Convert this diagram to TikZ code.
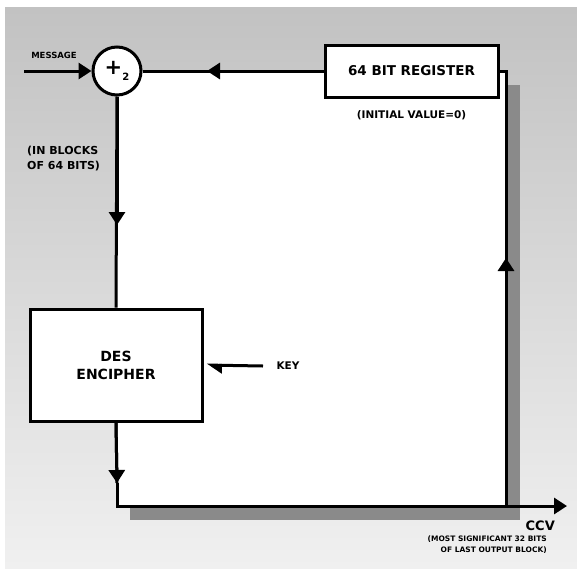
\documentclass[tikz,border=0pt]{standalone}
\usepackage{fontspec}
\setmainfont{DejaVu Sans}
\usepackage{tikz}
\usetikzlibrary{positioning, calc, arrows.meta}
\definecolor{bgTop}{RGB}{194, 194, 194}
\definecolor{bgBot}{RGB}{240, 240, 240}
\definecolor{shadowGray}{RGB}{138, 138, 138}

\begin{document}
\begin{tikzpicture}[
    x=1pt, y=-1pt,
    blk/.style={rectangle, draw, fill=white, line width=3pt, align=center,
                font=\fontsize{14}{18}\selectfont\bfseries},
    xorop/.style={circle, draw, fill=white, line width=3pt, minimum size=48pt,
                  inner sep=0pt, font=\bfseries},
    lbl/.style={inner sep=0pt, font=\fontsize{10.5}{15}\selectfont\bfseries},
    small/.style={inner sep=0pt, font=\fontsize{7.5}{11}\selectfont\bfseries},
    line/.style={line width=3pt},
    arrow/.style={line width=3pt, -{Triangle[length=13pt, width=16pt]}},
    harp/.style={line width=3pt, -{Triangle[length=13pt, width=16pt, harpoon]}},
  ]
    \useasboundingbox (0,0) rectangle (577,570);

    % background, shadow and inner field
    \fill[top color=bgTop, bottom color=bgBot] (5,7) rectangle (577,568);
    \fill[shadowGray] (130,85) rectangle (520,520);
    \fill[white] (117,71) rectangle (506,506);

    % XOR
    \node[xorop] (XOR) at (117,71) {{\fontsize{21}{21}\selectfont +}\raisebox{-6pt}{\fontsize{10}{10}\selectfont 2}};
    \node[small, font=\fontsize{8.5}{10}\selectfont\bfseries] (MSG) at (54,55) {MESSAGE};
    \coordinate (MSGin) at (24,71);

    % register
    \node[blk, minimum width=173pt, minimum height=52pt,
          font=\fontsize{13.5}{17}\selectfont\bfseries] (REG) at (411.5,71) {64 BIT REGISTER};
    \node[lbl, below=12pt of REG] (INIT) {(INITIAL VALUE=0)};

    % DES
    \node[blk, minimum width=172pt, minimum height=112pt] (DES) at (116,365) {DES\\ENCIPHER};
    \node[lbl, font=\fontsize{11}{15}\selectfont\bfseries, align=left, anchor=north west]
        (BLK) at (27,146) {(IN BLOCKS\\OF 64 BITS)};
    \node[lbl] (KEY) at (288,366) {KEY};
    \coordinate (KEYin) at (263,366);

    % corners and arrow tips
    \coordinate (TR) at (506,71);
    \coordinate (BR) at (506,506);
    \coordinate (BL) at (117,506);
    \coordinate (OUT) at (567,506);
    \coordinate (tipTop) at (207,71);
    \coordinate (tipDown) at (117,225);
    \coordinate (tipLow) at (117,483);
    \coordinate (tipUp) at (506,258);

    % output
    \node[lbl, anchor=east, font=\fontsize{13}{15}\selectfont\bfseries] (CCV) at (555,526) {CCV};
    \node[small, align=right, anchor=north east] (NOTE) at (547,536)
        {(MOST SIGNIFICANT 32 BITS\\OF LAST OUTPUT BLOCK)};

    \draw[arrow] (MSGin) -- (XOR.west);
    \draw[line] (REG.west) -- (XOR.east);
    \draw[arrow] (REG.west) -- (tipTop);
    \draw[line] (XOR.south) -- (DES.north);
    \draw[arrow] (XOR.south) -- (tipDown);
    \draw[harp, shorten >=3pt] (KEYin) -- (DES.east);
    \draw[line] (DES.south) -- (tipLow);
    \draw[arrow] (DES.south) -- (tipLow);
    \draw[arrow] (tipLow) -- (BL) -- (OUT);
    \draw[line] (BR) -- (TR) -- (REG.east);
    \draw[arrow] (BR) -- (tipUp);
  \end{tikzpicture}
\end{document}
